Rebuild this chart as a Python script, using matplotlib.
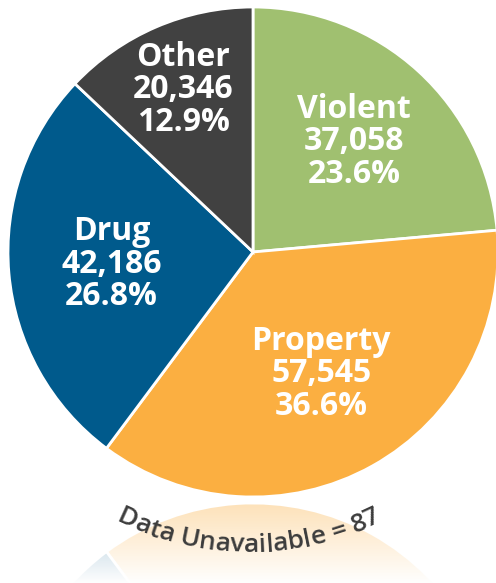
import numpy as np
import matplotlib
matplotlib.use("Agg")
from matplotlib import pyplot as plt
from matplotlib.font_manager import FontProperties

categories = ["Violent", "Property", "Drug", "Other"]
counts = [37058, 57545, 42186, 20346]
percents = ["23.6%", "36.6%", "26.8%", "12.9%"]
colors = ["#A0C070", "#FBAF41", "#005A8C", "#414141"]
unavailable = 87

W, H = 496, 583
cx, cy, R = 253, H - 252, 245
# how far out each label sits, as a fraction of the radius
label_r = [0.61, 0.57, 0.58, 0.72]

fig = plt.figure(figsize=(W / 100, H / 100), dpi=100)
ax = fig.add_axes([0, 0, 1, 1])

wedges, _ = ax.pie(counts, colors=colors, startangle=90, counterclock=False,
                   center=(cx, cy), radius=R,
                   wedgeprops=dict(edgecolor="white", linewidth=2))

# mirrored copy underneath, faded out with a white gradient
mirror_y = H - 500
ax.pie(counts, colors=colors, startangle=-90, counterclock=True,
       center=(cx, 2 * mirror_y - cy), radius=R,
       wedgeprops=dict(edgecolor="white", linewidth=2))
grad = np.ones((200, 2, 4))
grad[:, :, 3] = np.linspace(0.62, 1.0, 200)[:, None]
ax.imshow(grad, extent=(0, W, 0, mirror_y), aspect="auto", zorder=5,
          interpolation="bilinear")

for w, name, n, p, lr in zip(wedges, categories, counts, percents, label_r):
    mid = np.deg2rad((w.theta1 + w.theta2) / 2)
    x = cx + lr * R * np.cos(mid)
    y = cy + lr * R * np.sin(mid)
    ax.text(x, y, f"{name}\n{n:,}\n{p}", ha="center", va="center",
            color="white", fontsize=23, fontweight="bold",
            family="Open Sans", linespacing=0.98, zorder=6)

# curved caption along the bottom of the pie
caption = f"Data Unavailable = {unavailable}"
fprops = dict(family="Open Sans", size=19, weight="semibold")
fp = FontProperties(**fprops)
renderer = fig.canvas.get_renderer()
bar_w = renderer.get_text_width_height_descent("|", fp, ismath=False)[0]


def adv(s):
    return renderer.get_text_width_height_descent(s + "|", fp, ismath=False)[0] - bar_w


total = adv(caption)
acx, acy, ar = 249, H - 250, 302
for i, ch in enumerate(caption):
    if ch == " ":
        continue
    mid_s = (adv(caption[:i]) + adv(caption[:i + 1])) / 2 - total / 2
    phi = -np.pi / 2 + mid_s / ar
    x = acx + ar * np.cos(phi)
    y = acy + ar * np.sin(phi)
    ax.text(x, y, ch, ha="center", va="baseline", rotation=np.rad2deg(phi) + 90,
            rotation_mode="anchor", color="#3C3C3C", zorder=7, **fprops)

ax.set_xlim(0, W)
ax.set_ylim(0, H)
ax.set_aspect("auto")
ax.axis("off")

fig.savefig("out.png", dpi=100)
